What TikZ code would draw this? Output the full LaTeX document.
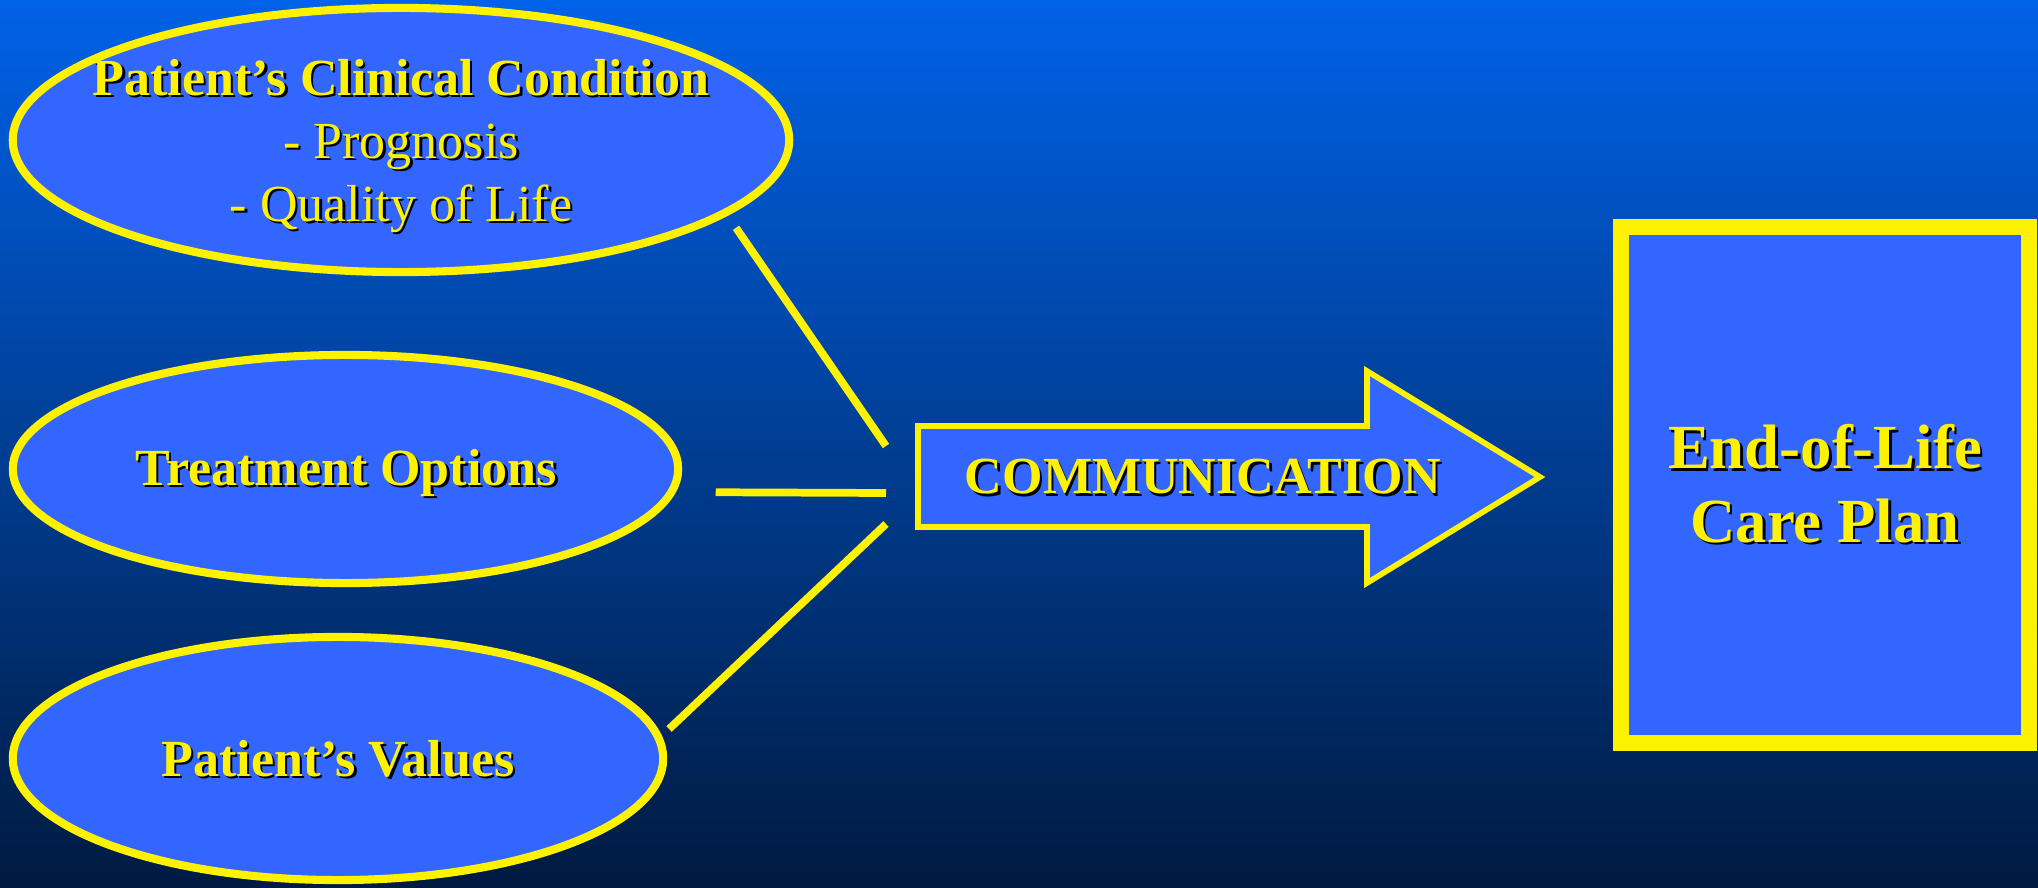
\documentclass[tikz,border=0pt]{standalone}
\usepackage{fontspec}
\setmainfont{Liberation Serif}
\usepackage{tikz}
\usetikzlibrary{shapes.geometric}
\definecolor{slideTop}{RGB}{0,98,232}
\definecolor{slideBottom}{RGB}{0,26,64}
\definecolor{bubbleBlue}{RGB}{51,102,255}
\newcommand{\shadowed}[1]{\makebox[0pt][l]{\hspace{0.7pt}\raisebox{-0.7pt}{\color{black}#1}}#1}

\begin{document}
\begin{tikzpicture}[x=0.01cm,y=-0.01cm,
    bubble/.style={ellipse, draw=yellow, fill=bubbleBlue, line width=2.3pt, inner sep=0pt},
    caption/.style={text=yellow, align=center, font=\fontsize{14.8}{17.9}\selectfont},
    link/.style={draw=yellow, line width=2.2pt}]
          \useasboundingbox (0,0) rectangle (2038,888);
          \shade[top color=slideTop, bottom color=slideBottom] (0,0) rectangle (2038,888);

          % the three inputs
          \node[bubble, minimum width=7.76cm, minimum height=2.64cm] (Condition) at (401,140) {};
          \node[bubble, minimum width=6.65cm, minimum height=2.28cm] (Treatment) at (345.5,469) {};
          \node[bubble, minimum width=6.50cm, minimum height=2.43cm] (Values) at (338,758.5) {};

          \node[caption] (ConditionText) at (401,147) {\textbf{\shadowed{Patient’s Clinical Condition}}\\ \shadowed{- Prognosis}\\ \shadowed{- Quality of Life}};
          \node[caption, font=\fontsize{14.8}{17.9}\selectfont\bfseries] (TreatmentText) at (346,474) {\shadowed{Treatment Options}};
          \node[caption, font=\fontsize{14.8}{17.9}\selectfont\bfseries] (ValuesText) at (338,760) {\shadowed{Patient’s Values}};

          \coordinate (HubTop) at (886,446);
          \coordinate (HubMid) at (886,493);
          \coordinate (HubLow) at (886,524);

          \draw[link, shorten <=0.15cm] (Condition.-13.7) -- (HubTop);
          \draw[link, shorten <=0.40cm] (Treatment.-4.17) -- (HubMid);
          \draw[link, shorten <=0.10cm] (Values.4.5) -- (HubLow);

          % the arrow
          \draw[draw=yellow, fill=bubbleBlue, line width=1.6pt] (918,426) -- (1367,426) -- (1367,371) -- (1540,477) -- (1367,583) -- (1367,527) -- (918,527) -- cycle;
          \node[caption, font=\fontsize{14.8}{17.9}\selectfont\bfseries] (Communication) at (1203,478) {\shadowed{COMMUNICATION}};

          % the outcome
          \node[draw=yellow, fill=bubbleBlue, line width=0.16cm, minimum width=4.08cm, minimum height=5.16cm, text=yellow, align=center, font=\fontsize{17.85}{21}\selectfont\bfseries] (CarePlan) at (1825,485) {\shadowed{End-of-Life}\\ \shadowed{Care Plan}};
        \end{tikzpicture}
\end{document}
